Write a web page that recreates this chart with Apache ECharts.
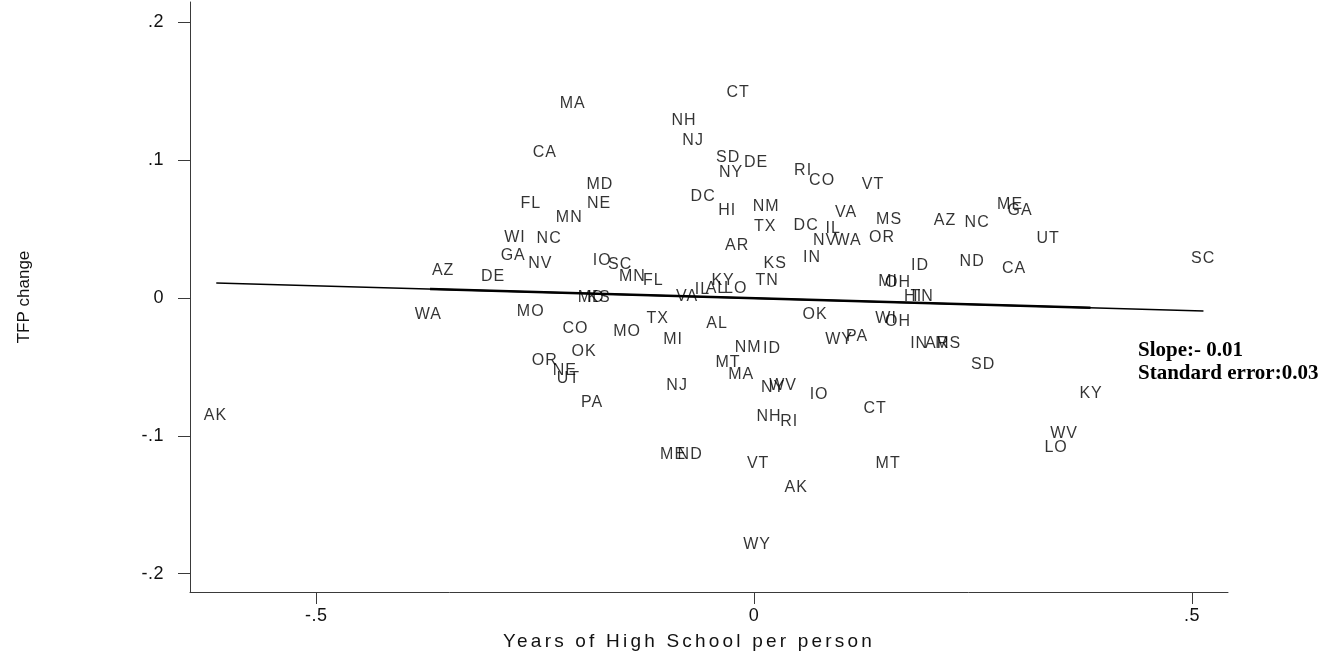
<!DOCTYPE html>
<html>
<head>
<meta charset="utf-8">
<title>TFP change vs. years of high school</title>
<script src="https://cdn.jsdelivr.net/npm/echarts@6/dist/echarts.min.js"></script>
<style>
  html, body { margin: 0; padding: 0; background: #fff; }
  #chart { width: 1338px; height: 658px; }
</style>
</head>
<body>
<div id="chart"></div>
<script>
// State labels with their coordinates (years of high school per person, TFP change)
const states = [
  'AK','WA','AZ','DE','GA','NV','WI','NC','FL','CA',
  'MA','MN','MD','NE','MO','CO','MO','OR','NE','UT',
  'OK','PA','MD','KS','IO','SC','MN','FL','TX','MI',
  'VA','IL','AL','LO','KY','AL','NJ','ME','ND','MT',
  'NM','ID','MA','NY','WV','NH','RI','IO','VT','AK',
  'WY','CT','NH','NJ','SD','NY','DE','DC','HI','NM',
  'TX','AR','KS','TN','RI','CO','VT','VA','DC','IL',
  'NV','WA','IN','MS','OR','AZ','NC','ME','GA','UT',
  'ND','CA','ID','MI','OH','HI','TN','OK','WI','OH',
  'WY','PA','IN','AR','MS','SD','CT','MT','SC','KY',
  'WV','LO'
];
const schooling = [
  -0.615,-0.372,-0.355,-0.298,-0.275,-0.244,-0.273,-0.234,-0.255,-0.239,
  -0.207,-0.211,-0.176,-0.177,-0.255,-0.204,-0.145,-0.239,-0.216,-0.212,
  -0.194,-0.185,-0.186,-0.177,-0.1735,-0.153,-0.139,-0.115,-0.110,-0.0925,
  -0.0765,-0.059,-0.043,-0.021,-0.0354,-0.0422,-0.0879,-0.0925,-0.073,-0.0297,
  -0.0068,0.0205,-0.0148,0.0217,0.0331,0.0171,0.040,0.0742,0.0046,0.048,
  0.0034,-0.0183,-0.0799,-0.0696,-0.0297,-0.0263,0.0023,-0.0582,-0.0308,0.0137,
  0.0126,-0.0194,0.024,0.0148,0.0559,0.0776,0.1358,0.105,0.0594,0.0902,
  0.081,0.1073,0.0662,0.1541,0.1461,0.218,0.2546,0.2922,0.3037,0.3356,
  0.2489,0.2968,0.1895,0.153,0.1644,0.1815,0.1918,0.0696,0.1507,0.1644,
  0.097,0.1176,0.1884,0.2089,0.2215,0.2614,0.1381,0.153,0.5126,0.3847,
  0.3539,0.3447
];
const tfpChange = [
  -0.085,-0.012,0.0196,0.0152,0.0305,0.0247,0.0436,0.0428,0.0682,0.1053,
  0.1408,0.0581,0.082,0.0682,-0.0102,-0.0225,-0.0247,-0.0457,-0.0523,-0.0581,
  -0.0392,-0.0762,0.0,0.0,0.0269,0.024,0.0152,0.0123,-0.0152,-0.0298,
  0.0007,0.0058,0.0065,0.0072,0.0123,-0.0189,-0.0632,-0.1133,-0.1133,-0.0465,
  -0.0363,-0.037,-0.0552,-0.0653,-0.0632,-0.0857,-0.090,-0.0704,-0.1198,-0.1372,
  -0.1786,0.1488,0.1285,0.114,0.1016,0.0907,0.098,0.0733,0.0632,0.0661,
  0.0515,0.0377,0.0247,0.0123,0.0922,0.0849,0.082,0.0617,0.0523,0.0501,
  0.0414,0.0414,0.029,0.0566,0.0436,0.0559,0.0544,0.0675,0.0632,0.0428,
  0.0261,0.0211,0.0232,0.0116,0.0109,0.0007,0.0007,-0.0123,-0.0152,-0.0174,
  -0.0298,-0.0283,-0.0334,-0.0334,-0.0334,-0.0486,-0.0799,-0.1198,0.0283,-0.069,
  -0.0987,-0.1082
];

// Fitted regression line: full span and the denser middle stretch
const fitX = [-0.614, 0.513];
const fitY = [0.0109, -0.0094];
const fitCoreX = [-0.37, 0.384];
const fitCoreY = [0.0065, -0.0071];

// Axis ticks
const xTicks = [-0.5, 0, 0.5];
const xTickLabels = ['-.5', '0', '.5'];
const yTicks = [-0.2, -0.1, 0, 0.1, 0.2];
const yTickLabels = ['-.2', '-.1', '0', '.1', '.2'];

const noteLines = ['Slope:- 0.01', 'Standard error:0.03'];

// Stata-like tracking for sans text, keyed by font size
const TRACKING = { 16: '1px', 18: '0.5px', 19: '3.2px' };
(function () {
  const proto = CanvasRenderingContext2D.prototype;
  if (!('letterSpacing' in proto)) return;
  const track = function (font) {
    if (/serif/i.test(font) && !/sans/i.test(font)) return '0px';
    const m = /(\d+(?:\.\d+)?)px/.exec(font);
    return (m && TRACKING[m[1]]) || '0px';
  };
  const fill = proto.fillText, measure = proto.measureText;
  proto.fillText = function (t, x, y, w) {
    this.letterSpacing = track(this.font);
    return w === undefined ? fill.call(this, t, x, y) : fill.call(this, t, x, y, w);
  };
  proto.measureText = function (t) {
    this.letterSpacing = track(this.font);
    return measure.call(this, t);
  };
})();

const SANS = '"Liberation Sans", Arial, sans-serif';
const axisColor = '#3a3a3a';

const points = states.map((s, i) => [schooling[i], tfpChange[i], s]);
const fmt = (ticks, labels) => v => {
  const i = ticks.findIndex(t => Math.abs(t - v) < 1e-9);
  return i >= 0 ? labels[i] : '';
};

const chart = echarts.init(document.getElementById('chart'), null, { renderer: 'canvas' });
chart.setOption({
  animation: false,
  backgroundColor: '#fff',
  grid: { left: 190, right: 110, top: 2, bottom: 66 },
  xAxis: {
    type: 'value',
    min: -0.644, max: 0.541,
    name: 'Years of High School per person',
    nameLocation: 'middle',
    nameGap: 38,
    nameTextStyle: { fontFamily: SANS, fontSize: 19, color: '#111', padding: [0, 40, 0, 0] },
    axisLine: { show: true, onZero: false, lineStyle: { color: axisColor, width: 1 } },
    axisTick: { show: true, length: 12, customValues: xTicks, lineStyle: { color: axisColor } },
    axisLabel: { customValues: xTicks, formatter: fmt(xTicks, xTickLabels), margin: 15,
      fontFamily: SANS, fontSize: 18, color: '#111' },
    splitLine: { show: false }
  },
  yAxis: {
    type: 'value',
    min: -0.2133, max: 0.2148,
    name: 'TFP change',
    nameLocation: 'middle',
    nameGap: 157,
    nameTextStyle: { fontFamily: SANS, fontSize: 17, color: '#111' },
    axisLine: { show: true, onZero: false, lineStyle: { color: axisColor, width: 1 } },
    axisTick: { show: true, length: 12, customValues: yTicks, lineStyle: { color: axisColor } },
    axisLabel: { customValues: yTicks, formatter: fmt(yTicks, yTickLabels), margin: 26,
      fontFamily: SANS, fontSize: 18, color: '#111' },
    splitLine: { show: false }
  },
  series: [
    {
      type: 'scatter',
      data: points,
      symbolSize: 0,
      silent: true,
      label: {
        show: true,
        position: 'inside',
        formatter: p => p.data[2],
        fontFamily: SANS,
        fontSize: 16,
        color: '#000'
      },
      z: 3
    },
    {
      type: 'line',
      data: fitX.map((x, i) => [x, fitY[i]]),
      symbol: 'none',
      silent: true,
      lineStyle: { color: '#000', width: 1.3 },
      z: 4
    },
    {
      type: 'line',
      data: fitCoreX.map((x, i) => [x, fitCoreY[i]]),
      symbol: 'none',
      silent: true,
      lineStyle: { color: '#000', width: 2.6 },
      z: 4
    }
  ],
  graphic: [{
    type: 'text',
    left: 1138,
    top: 339,
    style: {
      text: noteLines.join('\n'),
      font: 'bold 21px "Liberation Serif", "Times New Roman", serif',
      lineHeight: 23,
      fill: '#000'
    }
  }]
});
</script>
</body>
</html>
